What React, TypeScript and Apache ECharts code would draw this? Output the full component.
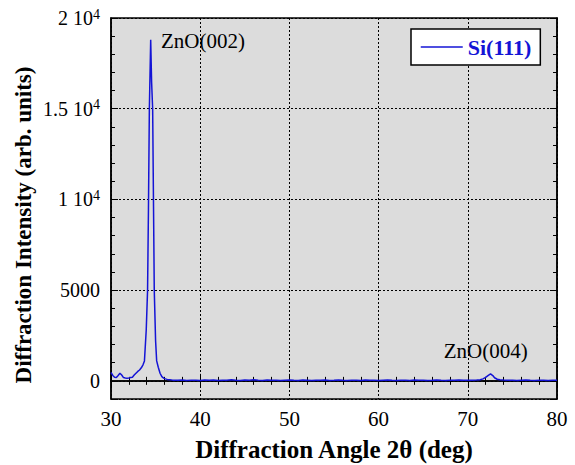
import React, { useEffect, useRef } from "react";
import * as echarts from "echarts";

// 2θ (deg)
const angles = [
  30.0, 30.2, 30.4, 30.6, 30.8, 31.0, 31.2, 31.4, 31.6, 31.8, 32.0, 32.2, 32.4, 32.6, 32.8, 33.0, 33.2, 33.4, 33.6,
  33.75, 33.95, 34.1, 34.2, 34.3, 34.45, 34.55, 34.67, 34.76, 34.85, 35.0, 35.12, 35.3, 35.5, 35.7, 35.9, 36.1, 36.3,
  36.6, 36.9, 37.3,
  37.5, 38, 38.5, 39, 39.5, 40, 40.5, 41, 41.5, 42, 42.5, 43, 43.5, 44, 44.5, 45, 45.5, 46, 46.5, 47, 47.5, 48, 48.5,
  49, 49.5, 50, 50.5, 51, 51.5, 52, 52.5, 53, 53.5, 54, 54.5, 55, 55.5, 56, 56.5, 57, 57.5, 58, 58.5, 59, 59.5, 60,
  60.5, 61, 61.5, 62, 62.5, 63, 63.5, 64, 64.5, 65, 65.5, 66, 66.5, 67, 67.5, 68, 68.5, 69, 69.5, 70, 70.5, 71,
  71.4, 71.7, 72.0, 72.3, 72.55, 72.8, 73.0, 73.3, 73.6,
  74, 74.5, 75, 75.5, 76, 76.5, 77, 77.5, 78, 78.5, 79, 79.5, 80,
];

// Intensity (arb. units)
const intensity = [
  460, 300, 200, 190, 300, 420, 320, 180, 160, 150, 160, 180, 200, 320, 420, 520, 600, 720, 900,
  1100, 2800, 5000, 9500, 15000, 18800, 16500, 15000, 10000, 5000, 2200, 1100, 750, 420, 230, 150, 110, 80,
  60, 40, 30,
  30, 45, 25, 40, 35, 20, 45, 30, 50, 25, 40, 30, 55, 35, 20, 45, 30, 60, 35, 25, 45, 30, 40,
  20, 35, 45, 30, 25, 50, 35, 20, 40, 30, 45, 25, 35, 50, 30, 20, 40, 35, 25, 45, 30, 40, 20,
  35, 50, 30, 25, 40, 35, 20, 45, 30, 40, 25, 35, 50, 30, 20, 40, 35, 45, 30, 40, 35, 45,
  60, 110, 190, 300, 380, 290, 170, 90, 60,
  45, 30, 40, 25, 35, 45, 30, 20, 40, 35, 25, 40, 30,
];

const seriesName = "Si(111)";
const xTitle = "Diffraction Angle 2θ (deg)";
const yTitle = "Diffraction Intensity (arb. units)";
const peakLabels = [
  { text: "ZnO(002)", at: [35.6, 18750] },
  { text: "ZnO(004)", at: [67.3, 1650] },
];

const SERIF = "Liberation Serif, Times New Roman, serif";
const BLUE = "#1414d6";

function yLabel(v: number): string {
  if (v < 0) return "";
  if (v >= 10000) return `{a|${v / 10000} 10}{s|4}`;
  return `{a|${v}}`;
}

export default function App() {
  const ref = useRef<HTMLDivElement>(null);
  useEffect(() => {
    if (!ref.current) return;
    const chart = echarts.init(ref.current, undefined, { renderer: "svg" });
    const data = angles.map((a, i) => [a, intensity[i]]);
    const axisLine = { show: true, lineStyle: { color: "#000", width: 1.5 } };
    const dotted = { show: true, lineStyle: { color: "#000", width: 1, type: [2, 2] as any } };
    const xBase = { type: "value", min: 30, max: 80, interval: 10 };
    const yBase = { type: "value", min: -1000, max: 20000 };
    chart.setOption({
      animation: false,
      backgroundColor: "#fff",
      grid: {
        left: 111, right: 18, top: 18, bottom: 66, show: true,
        containLabel: false, outerBoundsMode: "none",
        backgroundColor: "#dcdcdc", borderColor: "#000", borderWidth: 1.5,
      },
      legend: {
        left: 411, top: 29, padding: [7, 9, 7, 9],
        backgroundColor: "#fff", borderColor: "#000", borderWidth: 1.5, borderRadius: 0,
        itemWidth: 42, itemHeight: 14, itemGap: 5,
        itemStyle: { opacity: 0 },
        lineStyle: { color: BLUE, width: 1.5 },
        textStyle: { fontFamily: SERIF, fontSize: 22, fontWeight: "bold", color: BLUE },
        data: [seriesName],
      },
      graphic: [
        {
          type: "text",
          x: 23,
          y: 225,
          rotation: Math.PI / 2,
          style: {
            text: yTitle,
            fontFamily: SERIF,
            fontSize: 23,
            fontWeight: "bold",
            fill: "#000",
            align: "center",
            verticalAlign: "middle",
          },
        },
      ],
      xAxis: [
        {
          ...xBase, position: "bottom",
          axisLine,
          axisTick: { show: true, inside: true, length: 7, lineStyle: { color: "#000", width: 1 } },
          minorTick: { show: true, splitNumber: 5, length: 4, lineStyle: { color: "#000", width: 1 } },
          axisLabel: { fontFamily: SERIF, fontSize: 21, color: "#000", margin: 9 },
          splitLine: dotted,
          name: xTitle, nameLocation: "middle", nameGap: 38,
          nameTextStyle: { fontFamily: SERIF, fontSize: 25, fontWeight: "bold", color: "#000" },
        },
        {
          ...xBase, position: "top",
          axisLine,
          axisTick: { show: true, inside: true, length: 7, lineStyle: { color: "#000", width: 1 } },
          minorTick: { show: true, splitNumber: 5, length: 4, lineStyle: { color: "#000", width: 1 } },
          axisLabel: { show: false },
          splitLine: { show: false },
        },
      ],
      yAxis: [
        {
          ...yBase, splitNumber: 5, position: "left",
          axisLine,
          axisTick: { show: true, inside: true, length: 7, lineStyle: { color: "#000", width: 1 } },
          axisLabel: {
            formatter: yLabel, margin: 11,
            rich: {
              a: { fontFamily: SERIF, fontSize: 20, color: "#000", lineHeight: 22 },
              s: { fontFamily: SERIF, fontSize: 14, color: "#000", verticalAlign: "top" },
            },
          },
          splitLine: dotted,
        },
        {
          ...yBase, interval: 1000, position: "left",
          axisLine: { show: false },
          axisTick: { show: true, inside: true, length: 4, lineStyle: { color: "#000", width: 1 } },
          axisLabel: { show: false },
          splitLine: { show: false },
        },
        {
          ...yBase, splitNumber: 5, position: "right",
          axisLine,
          axisTick: { show: true, inside: true, length: 7, lineStyle: { color: "#000", width: 1 } },
          axisLabel: { show: false },
          splitLine: { show: false },
        },
        {
          ...yBase, interval: 1000, position: "right",
          axisLine: { show: false },
          axisTick: { show: true, inside: true, length: 4, lineStyle: { color: "#000", width: 1 } },
          axisLabel: { show: false },
          splitLine: { show: false },
        },
      ],
      series: [
        {
          name: seriesName,
          type: "line",
          xAxisIndex: 0,
          yAxisIndex: 0,
          data,
          symbol: "none",
          lineStyle: { color: BLUE, width: 1.5 },
          itemStyle: { color: BLUE },
          markPoint: {
            symbol: "circle",
            symbolSize: 0,
            label: {
              show: true, position: "right", distance: 0,
              fontFamily: SERIF, fontSize: 21, color: "#000",
              formatter: (p: any) => p.name,
            },
            data: peakLabels.map((p) => ({ name: p.text, coord: p.at })),
          },
        },
      ],
    });
    return () => chart.dispose();
  }, []);
  return (
    <div
      ref={ref}
      style={{ position: "fixed", left: 0, top: 0, width: 575, height: 465 }}
    />
  );
}
